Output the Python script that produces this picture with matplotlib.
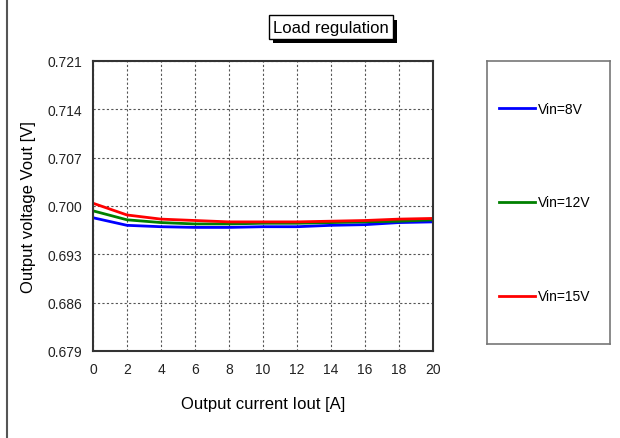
import matplotlib
matplotlib.use("Agg")
import matplotlib.pyplot as plt
import matplotlib.patheffects as pe
from matplotlib.lines import Line2D

plt.rcParams['font.family'] = ['Liberation Sans Narrow', 'Liberation Sans', 'DejaVu Sans']

# load regulation data
iout = [0, 2, 4, 6, 8, 10, 12, 14, 16, 18, 20]
vin_8 = [0.6983, 0.6972, 0.6970, 0.6969, 0.6969, 0.6970, 0.6970, 0.6972, 0.6973, 0.6976, 0.6977]
vin_12 = [0.6993, 0.6980, 0.6976, 0.6974, 0.6974, 0.6975, 0.6975, 0.6976, 0.6977, 0.6978, 0.6980]
vin_15 = [0.7004, 0.6987, 0.6981, 0.6979, 0.6977, 0.6977, 0.6977, 0.6978, 0.6979, 0.6981, 0.6982]
labels = ["Vin=8V", "Vin=12V", "Vin=15V"]
colors = ["#0000ff", "#008000", "#ff0000"]
yticks = [0.679, 0.686, 0.693, 0.700, 0.707, 0.714, 0.721]
xticks = list(range(0, 21, 2))

fig = plt.figure(figsize=(6.2, 4.39), dpi=100)
ax = fig.add_axes([93/620, 87/439, 340/620, 290/439])

for ys, c, lab in zip([vin_8, vin_12, vin_15], colors, labels):
    ax.plot(iout, ys, color=c, lw=2, label=lab, solid_joinstyle='round')

ax.set_xlim(0, 20)
ax.set_ylim(0.679, 0.721)
ax.set_xticks(xticks)
ax.set_yticks(yticks)
ax.set_yticklabels([f"{v:.3f}" for v in yticks])
ax.tick_params(length=0, labelsize=10, pad=8, colors='#222222')
ax.grid(True, color='#555555', ls=(0, (2, 2)), lw=0.8)
for s in ax.spines.values():
    s.set_linewidth(1.5)
    s.set_color('#333333')

ax.set_xlabel("Output current Iout [A]", fontsize=12, labelpad=14)
ax.set_ylabel("Output voltage Vout [V]", fontsize=12, labelpad=8)

t = fig.text(331/620, 1 - 28/439, "Load regulation", ha='center', va='center', fontsize=12,
             bbox=dict(boxstyle='square,pad=0.25', fc='white', ec='black', lw=1))
t.get_bbox_patch().set_path_effects([
    pe.SimplePatchShadow(offset=(3, -3), shadow_rgbFace='black', alpha=1),
    pe.Normal()])

# legend sits in its own framed box to the right
lax = fig.add_axes([487/620, 1 - 345/439, 123/620, 283/439])
lax.set_xticks([])
lax.set_yticks([])
for s in lax.spines.values():
    s.set_color('#777777')
    s.set_linewidth(1.2)
handles, labs = ax.get_legend_handles_labels()
lax.legend(handles, labs, loc='center left', bbox_to_anchor=(0, 0.5),
           frameon=False, fontsize=10, labelspacing=5.75, handlelength=2.6,
           handletextpad=0.2, borderpad=0, borderaxespad=0.86)

fig.add_artist(Line2D([6.5/620, 6.5/620], [0, 1], color='#555555', lw=1.5))

fig.savefig("out.png", dpi=100)
